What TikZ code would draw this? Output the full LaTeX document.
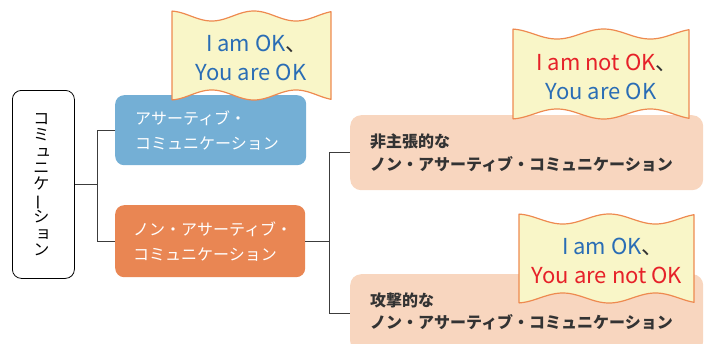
\documentclass[tikz,border=0pt]{standalone}
\usepackage{fontspec}
\setmainfont{Noto Sans CJK JP}
\usepackage{graphicx}
\definecolor{boxblue}{HTML}{74AFD5}
\definecolor{boxorange}{HTML}{E98653}
\definecolor{peach}{HTML}{F8D6BF}
\definecolor{flagfill}{HTML}{F9F6C8}
\definecolor{flagedge}{HTML}{EE8A50}
\definecolor{okblue}{HTML}{2A6DB5}
\definecolor{okred}{HTML}{E62129}
\definecolor{linec}{HTML}{3C3C3C}
\definecolor{darktext}{HTML}{333333}
\newcommand\wavyflag[4]{%
  \filldraw[flagline]
    plot[domain=0:1,samples=90,variable=\u] ({#1+\u*(#2-#1)},{#3+5*cos(360*(\u-0.25)/0.53)})
    -- plot[domain=1:0,samples=90,variable=\u] ({#1+\u*(#2-#1)},{#4-5*cos(360*(\u-0.25)/0.53)})
    -- cycle;}
\newcommand\tenten{\makebox[0.45em][l]{\textcolor{darktext}{、}}}
\newcommand\smallkana[1]{\makebox[1em][l]{\hspace{2pt}#1}}
\tikzset{
  conn/.style={draw=linec, line width=0.9pt},
  rootbox/.style={draw=black, line width=0.8pt, fill=white, rounded corners=9pt,
    minimum width=62pt, minimum height=188pt, inner sep=0pt, anchor=north west},
  plainbox/.style={rounded corners=9pt, inner sep=0pt, anchor=north west},
  boxtext/.style={inner sep=0pt, align=left, anchor=west, font=\fontsize{16}{25}\selectfont},
  flagline/.style={fill=flagfill, draw=flagedge, line width=1.2pt, line join=round},
  flagtext/.style={inner sep=0pt, align=center, font=\fontsize{22}{29}\selectfont}
}
\begin{document}
\begin{tikzpicture}[x=1pt,y=-1pt]
\useasboundingbox (0,0) rectangle (709,343);
% boxes
\node[rootbox] (root) at (12,90) {};
\node[plainbox, fill=boxblue, minimum width=191pt, minimum height=70pt] (blue) at (115,95) {};
\node[plainbox, fill=boxorange, minimum width=190pt, minimum height=72pt] (orange) at (115,205) {};
\node[plainbox, fill=peach, minimum width=353pt, minimum height=75pt, rounded corners=11pt] (peachA) at (350,115) {};
\node[plainbox, fill=peach, minimum width=353pt, minimum height=78pt, rounded corners=11pt] (peachB) at (350,274) {};
% texts in boxes
\node[font=\fontsize{16}{16.4}\selectfont, align=center, inner sep=0pt] (vtext) at ([xshift=-2pt]root.center)
  {コ\\ミ\\\smallkana{ュ}\\ニ\\ケ\\\smash{\rotatebox[origin=c]{90}{ー}}\\シ\\\smallkana{ョ}\\ン};
\node[boxtext, text=white] (tblue) at ([xshift=20pt]blue.west) {アサーティブ・\\コミュニケーション};
\node[boxtext, text=white] (torange) at ([xshift=18pt]orange.west) {ノン・アサーティブ・\\コミュニケーション};
\node[boxtext, text=darktext, font=\fontsize{16}{22.5}\selectfont\bfseries] (tpeachA) at ([xshift=20pt]peachA.west) {非主張的な\\ノン・アサーティブ・コミュニケーション};
\node[boxtext, text=darktext, font=\fontsize{16}{22.5}\selectfont\bfseries] (tpeachB) at ([xshift=20pt,yshift=2pt]peachB.west) {攻撃的な\\ノン・アサーティブ・コミュニケーション};
% connectors
\coordinate (j1) at ([xshift=23pt]root.east);
\coordinate (j2) at ([xshift=24pt]orange.east);
\draw[conn] (root.east) -- (j1);
\draw[conn] (blue.west) -| (j1) |- (orange.west);
\draw[conn] (orange.east) -- (j2);
\draw[conn] (peachA.west) -| (j2) |- (peachB.west);
% flags
\wavyflag{172}{331}{16}{95}
\wavyflag{513}{689}{34}{114}
\wavyflag{519}{694}{219}{298}
\node[flagtext] (f1) at (251,57.5) {\textcolor{okblue}{I am OK}\tenten\\\textcolor{okblue}{You are OK}};
\node[flagtext] (f2) at (601,76.5) {\textcolor{okred}{I am not OK}\tenten\\\textcolor{okblue}{You are OK}};
\node[flagtext] (f3) at (607,261) {\textcolor{okblue}{I am OK}\tenten\\\textcolor{okred}{You are not OK}};
\end{tikzpicture}
\end{document}
